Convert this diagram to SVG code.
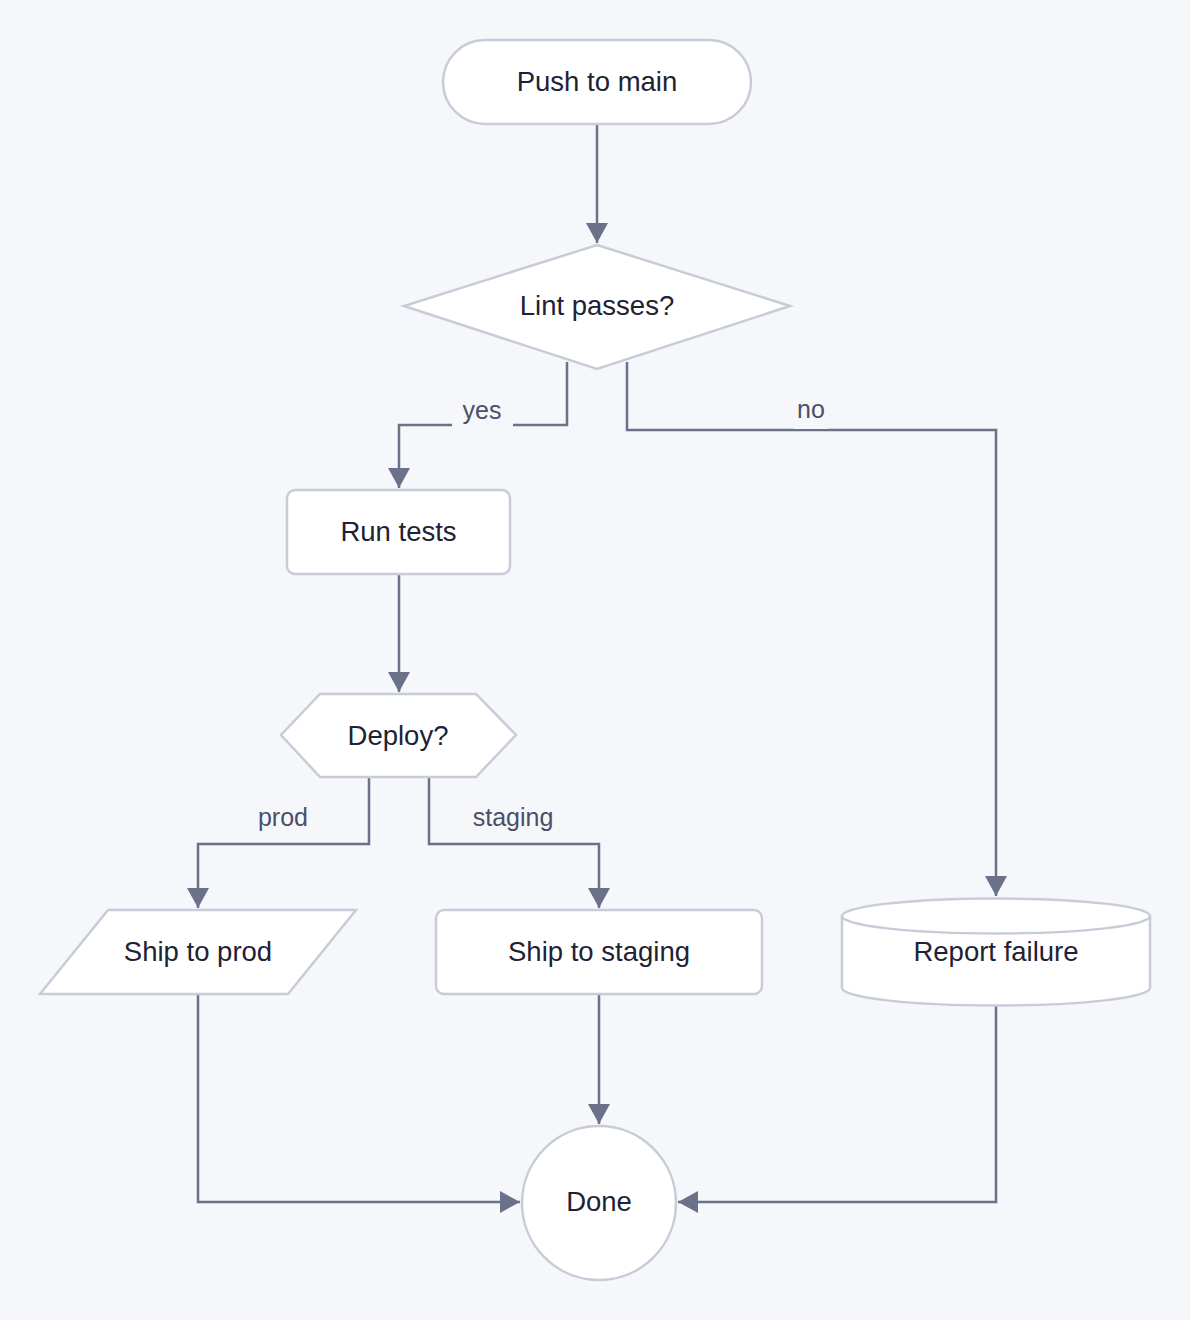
<svg xmlns="http://www.w3.org/2000/svg" width="1190" height="1320" viewBox="0 0 1190 1320">
<style>
.node{fill:#ffffff;stroke:#c8ccd9;stroke-width:2.5}
.t{font-family:"Liberation Sans",Arial,sans-serif;font-size:27.5px;fill:#1e2235;text-anchor:middle;dominant-baseline:central}
.e{fill:none;stroke:#6b7189;stroke-width:2.5}
.lbg{fill:#f6f7fb}
.lt{font-family:"Liberation Sans",Arial,sans-serif;font-size:25px;fill:#4a5068;text-anchor:middle;dominant-baseline:central}
</style>
<defs>
<marker id="arr" markerUnits="userSpaceOnUse" markerWidth="22" markerHeight="22" refX="20" refY="11" orient="auto">
<path d="M0,0 L20,11 L0,22 Z" fill="#6b7189"/>
</marker>
</defs>
<rect width="1190" height="1320" fill="#f6f7fb"/>
<g id="edges">
<path class="e" d="M597,124 L597,243" marker-end="url(#arr)"/>
<path class="e" d="M567,362 L567,425 L399,425 L399,488" marker-end="url(#arr)"/>
<path class="e" d="M627,362 L627,430 L996,430 L996,896" marker-end="url(#arr)"/>
<path class="e" d="M399,574 L399,692" marker-end="url(#arr)"/>
<path class="e" d="M369,777 L369,844 L198,844 L198,908" marker-end="url(#arr)"/>
<path class="e" d="M429,777 L429,844 L599,844 L599,908" marker-end="url(#arr)"/>
<path class="e" d="M599,994 L599,1124" marker-end="url(#arr)"/>
<path class="e" d="M198,994 L198,1202 L520,1202" marker-end="url(#arr)"/>
<path class="e" d="M996,1005 L996,1202 L678,1202" marker-end="url(#arr)"/>
<rect class="lbg" x="452" y="393" width="61" height="36" rx="4"/>
<text class="lt" x="482" y="410">yes</text>
<rect class="lbg" x="792" y="391" width="38" height="38" rx="4"/>
<text class="lt" x="811" y="409">no</text>
<text class="lt" x="283" y="817">prod</text>
<text class="lt" x="513" y="817">staging</text>
</g>
<g id="push">
<rect class="node" x="443" y="40" width="308" height="84" rx="42"/>
<text class="t" x="597" y="81">Push to main</text>
</g>
<g id="lint">
<polygon class="node" points="597,245 790,306 597,369 404,306"/>
<text class="t" x="597" y="305">Lint passes?</text>
</g>
<g id="tests">
<rect class="node" x="287" y="490" width="223" height="84" rx="8"/>
<text class="t" x="398.5" y="531">Run tests</text>
</g>
<g id="deploy">
<polygon class="node" points="320,694 476,694 516,735 476,777 320,777 281,735"/>
<text class="t" x="398" y="735">Deploy?</text>
</g>
<g id="prod">
<polygon class="node" points="108,910 356,910 288,994 40,994"/>
<text class="t" x="198" y="951">Ship to prod</text>
</g>
<g id="staging">
<rect class="node" x="436" y="910" width="326" height="84" rx="8"/>
<text class="t" x="599" y="951">Ship to staging</text>
</g>
<g id="report">
<path class="node" d="M842,916 A154,17.5 0 0 1 1150,916 L1150,988 A154,17.5 0 0 1 842,988 Z"/>
<path class="node" fill="none" d="M842,916 A154,17.5 0 0 0 1150,916"/>
<text class="t" x="996" y="951">Report failure</text>
</g>
<g id="done">
<circle class="node" cx="599" cy="1203" r="77"/>
<text class="t" x="599" y="1201">Done</text>
</g>
</svg>
